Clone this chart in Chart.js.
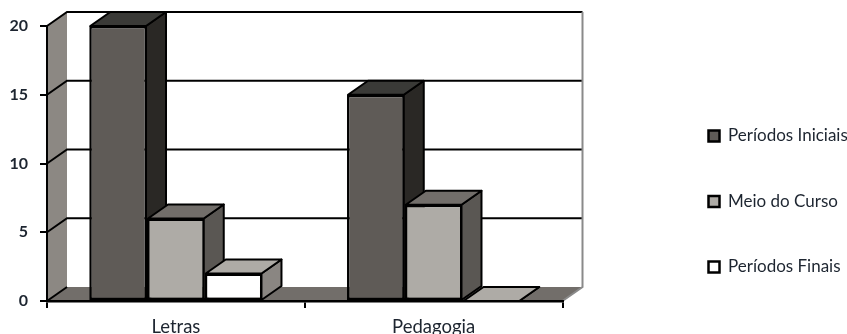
<!DOCTYPE html>
<html>
<head>
<meta charset="utf-8">
<style>
html,body{margin:0;padding:0;background:#fff}
#wrap{width:847px;height:334px}
</style>
<script src="https://cdn.jsdelivr.net/npm/chart.js@4"></script>
</head>
<body>
<div id="wrap"><canvas id="myChart" width="847" height="334"></canvas></div>
<script>
const categorias=["Letras","Pedagogia"]
const iniciais=[20,15]
const meio=[6,7]
const finais=[2,0]
const ticksY=[0,5,10,15,20]

// profundidade do efeito 3D
const dx=20
const dy=14
const fonte="Lato, sans-serif"

const poly=(ctx,pts,fill,line)=>{
    ctx.beginPath()
    pts.forEach((p,i)=>i?ctx.lineTo(p[0],p[1]):ctx.moveTo(p[0],p[1]))
    ctx.closePath()
    if(fill){ctx.fillStyle=fill;ctx.fill()}
    if(line){ctx.strokeStyle="#000";ctx.lineWidth=line;ctx.lineJoin="round";ctx.stroke()}
}

const fundo3d={
    id:"fundo3d",
    // parede, piso e linhas de grade atras das barras
    beforeDraw(chart){
        const {ctx,chartArea:a,scales:{y}}=chart
        const base=y.getPixelForValue(0)
        const topo=y.getPixelForValue(20)
        ctx.save()
        poly(ctx,[[a.left,topo],[a.left+dx,topo-dy],[a.left+dx,base-dy],[a.left,base]],"#8c8883")
        poly(ctx,[[a.left,base],[a.left+dx,base-dy],[a.right+dx,base-dy],[a.right,base]],"#726e6a")
        ctx.strokeStyle="#000"
        ctx.lineWidth=2
        ticksY.forEach(v=>{
            const py=y.getPixelForValue(v)
            ctx.beginPath()
            ctx.moveTo(a.left,py)
            ctx.lineTo(a.left+dx,py-dy)
            if(v>0)ctx.lineTo(a.right+dx,py-dy)
            ctx.stroke()
        })
        ctx.strokeStyle="#8a8a8a"
        ctx.lineWidth=2
        ctx.beginPath()
        ctx.moveTo(a.right+dx,topo-dy)
        ctx.lineTo(a.right+dx,base-dy)
        ctx.lineTo(a.right,base)
        ctx.stroke()
        ctx.restore()
    },
    // desenha da esquerda para a direita, cada barra cobre a lateral da anterior
    beforeDatasetDraw(){
        return false
    },
    afterDatasetsDraw(chart){
        const ctx=chart.ctx
        chart.data.datasets.forEach((ds,i)=>{
            const meta=chart.getDatasetMeta(i)
            meta.controller.draw()
            meta.data.forEach(bar=>{
                const {x,y,base,width}=bar.getProps(["x","y","base","width"],true)
                const l=x-width/2
                const r=x+width/2
                poly(ctx,[[r-1,y],[r+dx-1,y-dy],[r+dx-1,base-dy],[r-1,base]],ds.corLado,2)
                poly(ctx,[[l+1,y],[l+dx+1,y-dy],[r+dx-1,y-dy],[r-1,y]],ds.corTopo,2)
            })
        })
    },
    // coloca a legenda na coluna da direita
    afterLayout(chart){
        chart.legend.left=660
        chart.legend.right=847
        chart.legend.top=69
        chart.legend.bottom=334
    }
}

const ctx=document.getElementById("myChart")

new Chart(ctx,{
    type:"bar",
    data:{
        labels:categorias,
        datasets:[
            {label:"Períodos Iniciais",data:iniciais,backgroundColor:"#5f5b57",corTopo:"#3a3a37",corLado:"#2a2825"},
            {label:"Meio do Curso",data:meio,backgroundColor:"#aeaba6",corTopo:"#726e6a",corLado:"#5a5753"},
            {label:"Períodos Finais",data:finais,backgroundColor:"#ffffff",corTopo:"#aeaba6",corLado:"#8a8682"}
        ].map(d=>({...d,borderColor:"#000",borderWidth:2.5,borderSkipped:false,categoryPercentage:0.672,barPercentage:1}))
    },
    options:{
        responsive:false,
        animation:false,
        layout:{padding:{top:26,right:97}},
        plugins:{
            tooltip:{enabled:false},
            legend:{
                position:"right",
                labels:{boxWidth:11,boxHeight:11,padding:48.5,color:"#1d2530",font:{family:fonte,size:17}}
            }
        },
        scales:{
            x:{
                grid:{offset:true,drawOnChartArea:false,color:"#000",lineWidth:2,tickLength:7},
                border:{color:"#000",width:2.5},
                ticks:{color:"#1d2530",padding:8,font:{family:fonte,size:18.5}},
                afterFit:s=>{s.height=33}
            },
            y:{
                min:0,
                max:20,
                grid:{drawOnChartArea:false,color:"#000",lineWidth:2,tickLength:7},
                border:{color:"#000",width:2},
                ticks:{stepSize:5,color:"#1d2530",padding:12,font:{family:fonte,size:16,weight:"700"}},
                afterFit:s=>{s.width=47}
            }
        }
    },
    plugins:[fundo3d]
})
</script>
</body>
</html>
